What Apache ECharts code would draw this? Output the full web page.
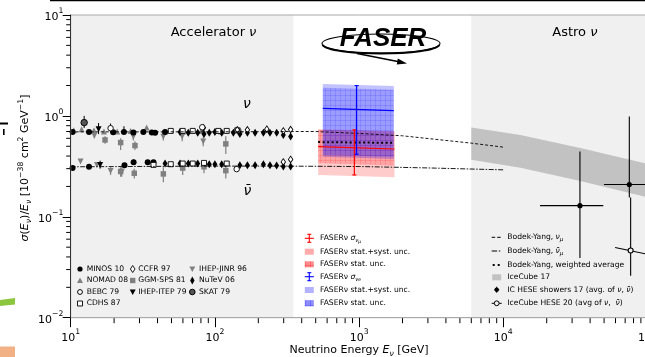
<!DOCTYPE html>
<html>
<head>
<meta charset="utf-8">
<script src="https://cdn.jsdelivr.net/npm/echarts@6.0.0/dist/echarts.min.js"></script>
<style>
html,body{margin:0;padding:0;background:#fff;}
#chart{width:645px;height:357px;}
</style>
</head>
<body>
<div id="chart"></div>
<script>
const FF = '"DejaVu Sans", sans-serif';

// ---------------- axes / ticks ----------------
const xMajorTicks = [10, 100, 1000, 10000, 100000];
const yMajorTicks = [0.01, 0.1, 1, 10];
const xMinorTicks = [20,30,40,50,60,70,80,90, 200,300,400,500,600,700,800,900,
                     2000,3000,4000,5000,6000,7000,8000,9000, 20000,30000,40000,50000,60000,70000,80000,90000];
const yMinorTicks = [0.02,0.03,0.04,0.05,0.06,0.07,0.08,0.09, 0.2,0.3,0.4,0.5,0.6,0.7,0.8,0.9, 2,3,4,5,6,7,8,9];

// ---------------- shaded regions (GeV) ----------------
const accelRegion = [10, 350];
const astroRegion = [6000, 100000];

// ---------------- accelerator data: [E, sigma/E, lo, hi] ----------------
const MINOS10 = [[10.3,0.694],[13.4,0.694],[19.7,0.690],[23.4,0.694,0.66,0.79],[27.2,0.685],[31.9,0.694],[36.5,0.684],[38.5,0.679],[45.1,0.694],
                 [10.3,0.304],[13.4,0.313],[23.6,0.325],[27.3,0.348,0.33,0.37],[34.2,0.348],[37.5,0.348]];
const NOMAD08 = [[10.5,0.72],[11.9,0.738],[14.5,0.72],[17,0.70],[21,0.70],[26,0.71],[33.6,0.766],[45,0.70],[60,0.70],[80,0.71],[110,0.70],[150,0.72],[229,0.738,0.70,0.78]];
const BEBC79 = [[18.9,0.755,0.69,0.84],[81.7,0.772],[141.6,0.297]];
const CDHS87 = [[49.4,0.71],[59.8,0.71],[70.2,0.71],[105.6,0.71],[120.8,0.71],[143,0.72],
                [37.5,0.327],[49.4,0.332],[59.8,0.337],[70.2,0.337],[84,0.342],[120.8,0.337]];
const CCFR97 = [[83.2,0.761],[143,0.727],[168,0.727],[229,0.738],[298,0.71],[335,0.732],[298,0.35],[335,0.37]];
const GGMSPS81 = [[17.3,0.578,0.53,0.63],[22.2,0.544,0.46,0.60],[27.9,0.508,0.46,0.56],[119,0.528,0.42,0.63],
                  [22.2,0.281,0.25,0.31],[27.6,0.27,0.24,0.30],[43.9,0.266,0.22,0.31],[59.8,0.304,0.26,0.35],[84,0.313,0.27,0.36],[119,0.287,0.24,0.34]];
const IHEPITEP79 = [[15.6,0.738,0.66,0.85],[16,0.327,0.30,0.36]];
const IHEPJINR96 = [[14.6,0.634,0.60,0.67],[27.2,0.62,0.57,0.67],[43.9,0.62,0.57,0.67],[59.3,0.624,0.56,0.70],[83,0.557,0.50,0.62],
                    [11.7,0.353],[15.2,0.327],[18.9,0.285,0.26,0.31],[22.6,0.279,0.25,0.31]];
const NuTeV06 = [[57.3,0.694],[65.4,0.679],[76,0.679],[84,0.663],[91.4,0.679],[100,0.694],[111.5,0.679],[134.3,0.679],[149,0.663],[168,0.679],[190,0.679],[217,0.679],[241,0.679],[268,0.679],[298,0.648],[335,0.624],
                 [45.1,0.337],[57.3,0.337],[65.4,0.337],[76,0.337],[91.4,0.332],[100,0.332],[111.5,0.332],[149,0.325],[168,0.325],[190,0.325],[217,0.332],[241,0.325],[268,0.322],[298,0.315],[335,0.315]];
const SKAT79 = [[12.4,0.858,0.76,1.0]];

// ---------------- Bodek-Yang predictions ----------------
const byNuE = [10, 30, 100, 300, 500, 1000, 2000, 6000, 10000];
const byNuV = [0.695, 0.695, 0.695, 0.70, 0.70, 0.67, 0.635, 0.537, 0.49];
const byNubarE = [10, 100, 300, 1000, 3000, 10000];
const byNubarV = [0.313, 0.318, 0.318, 0.315, 0.305, 0.292];
const byAvgE = [520, 1000, 1760];
const byAvgV = [0.55, 0.545, 0.54];

// ---------------- FASERnu results ----------------
const faserNumuRange = [520, 1760];
const faserNumuTotTop = [0.738, 0.71], faserNumuTotBot = [0.26, 0.247];
const faserNumuStatTop = [0.727, 0.70], faserNumuStatBot = [0.34, 0.323];
const faserNumuCentral = [0.497, 0.470];
const faserNumuPoint = [927, 0.484, 0.26, 0.727];
const faserNueRange = [560, 1740];
const faserNueTotTop = [2.075, 1.98], faserNueTotBot = [0.393, 0.375];
const faserNueStatTop = [1.9, 1.82], faserNueStatBot = [0.41, 0.393];
const faserNueCentral = [1.19, 1.13];
const faserNuePoint = [961, 1.16, 0.417, 1.996];

// ---------------- astrophysical ----------------
const ic17E = [6000, 13140, 34200, 96600, 150000];
const ic17Top = [0.766, 0.648, 0.482, 0.339, 0.29];
const ic17Bot = [0.367, 0.306, 0.227, 0.158, 0.13];
// [E, value, Elo, Ehi, lo, hi]
const icHese17 = [[34000, 0.129, 17970, 49370, 0.039, 0.443], [74800, 0.209, 49900, 200000, 0.155, 0.984]];
// [E, value, lo, hi]
const icHese20 = [[76400, 0.0464, 0.026, 0.155]];
const icHese20Slant = [[59600, 0.0497], [150000, 0.0377]];

// ======================================================================
function hatch(line, bg) {
  const c = document.createElement('canvas');
  c.width = 5; c.height = 5;
  const g = c.getContext('2d');
  g.fillStyle = bg; g.fillRect(0, 0, 5, 5);
  g.strokeStyle = line; g.lineWidth = 1;
  g.beginPath(); g.moveTo(0, 0.5); g.lineTo(5, 0.5); g.moveTo(0.5, 0); g.lineTo(0.5, 5); g.stroke();
  return { image: c, repeat: 'repeat' };
}
const redHatch = hatch('rgba(255,0,0,0.14)', 'rgba(255,0,0,0.2)');
const blueHatch = hatch('rgba(0,0,255,0.12)', 'rgba(0,0,255,0.2)');

function errSeries(items, color, width, z) {
  return {
    type: 'custom', silent: true, z: z, data: items,
    renderItem: (p, api) => {
      const a = api.coord([api.value(0), api.value(1)]);
      const b = api.coord([api.value(0), api.value(2)]);
      return { type: 'line', shape: { x1: a[0], y1: a[1], x2: b[0], y2: b[1] }, style: { stroke: color, lineWidth: width } };
    }
  };
}
function errFrom(arr) { return arr.filter(p => p.length > 2).map(p => [p[0], p[2], p[3]]); }

function scatter(arr, symbol, size, fill, border, rotate, z) {
  return {
    type: 'scatter', silent: true, z: z, data: arr.map(p => [p[0], p[1]]),
    symbol: symbol, symbolSize: size, symbolRotate: rotate || 0,
    itemStyle: { color: fill, borderColor: border || fill, borderWidth: border ? 0.9 : 0, opacity: 1 }
  };
}

function boxSeries(range, top, bot, fill, z) {
  return {
    type: 'custom', silent: true, z: z,
    data: [[range[0], top[0], range[1], top[1], bot[1], bot[0]]],
    renderItem: (p, api) => {
      const pts = [api.coord([api.value(0), api.value(1)]), api.coord([api.value(2), api.value(3)]),
                   api.coord([api.value(2), api.value(4)]), api.coord([api.value(0), api.value(5)])];
      return { type: 'polygon', shape: { points: pts }, style: { fill: fill } };
    }
  };
}

function lineSeries(E, V, color, width, type, z) {
  return {
    type: 'line', silent: true, z: z, symbol: 'none', smooth: false,
    data: E.map((e, i) => [e, V[i]]),
    lineStyle: { color: color, width: width, type: type, cap: 'butt' }
  };
}

function faserPoint(range, central, pt, color, z) {
  return {
    type: 'custom', silent: true, z: z,
    data: [[pt[0], pt[1], pt[2], pt[3], range[0], range[1], central[0], central[1]]],
    renderItem: (p, api) => {
      const e = api.value(0);
      const lo = api.coord([e, api.value(2)]), hi = api.coord([e, api.value(3)]);
      const cl = api.coord([api.value(4), api.value(6)]), cr = api.coord([api.value(5), api.value(7)]);
      const st = { stroke: color, lineWidth: 1.2 };
      return { type: 'group', children: [
        { type: 'line', shape: { x1: cl[0], y1: cl[1], x2: cr[0], y2: cr[1] }, style: st },
        { type: 'line', shape: { x1: lo[0], y1: lo[1], x2: hi[0], y2: hi[1] }, style: st },
        { type: 'line', shape: { x1: lo[0] - 2, y1: lo[1], x2: lo[0] + 2, y2: lo[1] }, style: st },
        { type: 'line', shape: { x1: hi[0] - 2, y1: hi[1], x2: hi[0] + 2, y2: hi[1] }, style: st }
      ]};
    }
  };
}

function expFmt(v) {
  const e = Math.round(Math.log10(v));
  return '{b|10}{s|' + (e < 0 ? '\u2212' + (-e) : String(e)) + '}';
}
const tickRich = {
  b: { fontSize: 11, lineHeight: 16, verticalAlign: 'bottom', fontFamily: FF, color: '#000' },
  s: { fontSize: 7.7, lineHeight: 9, verticalAlign: 'top', fontFamily: FF, color: '#000' }
};

const series = [];
// background regions
series.push({
  type: 'custom', silent: true, z: 1, data: [accelRegion, astroRegion],
  renderItem: (p, api) => {
    const a = api.coord([api.value(0), 10]), b = api.coord([api.value(1), 0.01]);
    return { type: 'rect', shape: { x: a[0], y: a[1], width: b[0] - a[0], height: b[1] - a[1] }, style: { fill: '#f0f0f0' } };
  }
});
// minor ticks
series.push({
  type: 'custom', silent: true, z: 12, data: xMinorTicks.map(v => [v, 0.01]),
  renderItem: (p, api) => {
    const a = api.coord([api.value(0), 0.01]);
    return { type: 'line', shape: { x1: a[0], y1: a[1], x2: a[0], y2: a[1] + 5.5 }, style: { stroke: '#000', lineWidth: 1 } };
  }
});
series.push({
  type: 'custom', silent: true, z: 12, data: yMinorTicks.map(v => [10, v]),
  renderItem: (p, api) => {
    const a = api.coord([10, api.value(1)]);
    return { type: 'line', shape: { x1: a[0] - 4.5, y1: a[1], x2: a[0], y2: a[1] }, style: { stroke: '#000', lineWidth: 1 } };
  }
});
// IceCube 17 band
series.push({
  type: 'custom', silent: true, z: 3, clip: true, data: [[ic17E[0], ic17Top[0]]],
  renderItem: (p, api) => {
    const pts = [];
    ic17E.forEach((e, i) => pts.push(api.coord([e, ic17Top[i]])));
    for (let i = ic17E.length - 1; i >= 0; i--) pts.push(api.coord([ic17E[i], ic17Bot[i]]));
    return { type: 'polygon', shape: { points: pts }, style: { fill: '#c2c2c2' } };
  }
});
// accelerator experiments: gray first, black on top
const GRAY = '#808080';
series.push(errSeries(errFrom(GGMSPS81).concat(errFrom(IHEPJINR96)).concat(errFrom(NOMAD08)), GRAY, 1.2, 4));
series.push(scatter(NOMAD08, 'triangle', 6, GRAY, null, 0, 5));
series.push(scatter(GGMSPS81, 'rect', 5.5, GRAY, null, 0, 5));
series.push(scatter(IHEPJINR96, 'triangle', 6, GRAY, null, 180, 5));
series.push(errSeries(errFrom(MINOS10).concat(errFrom(BEBC79)).concat(errFrom(IHEPITEP79)).concat(errFrom(SKAT79)), '#000', 1, 6));
series.push(scatter(MINOS10, 'circle', 6, '#000', null, 0, 7));
series.push(scatter(NuTeV06, 'diamond', [5, 8], '#000', null, 0, 7));
series.push(scatter(IHEPITEP79, 'triangle', 6, '#000', null, 180, 7));
series.push(scatter(CDHS87, 'rect', 5, '#fff', '#000', 0, 7));
series.push(scatter(CCFR97, 'diamond', [4.5, 6.5], '#fff', '#000', 0, 7));
series.push(scatter(BEBC79, 'circle', 5.5, '#fff', '#000', 0, 7));
series.push(scatter(SKAT79, 'circle', 6.5, '#555', '#000', 0, 7));
// FASER boxes
series.push(boxSeries(faserNumuRange, faserNumuTotTop, faserNumuTotBot, 'rgba(255,0,0,0.2)', 8));
series.push(boxSeries(faserNumuRange, faserNumuStatTop, faserNumuStatBot, redHatch, 8));
series.push(boxSeries(faserNueRange, faserNueTotTop, faserNueTotBot, 'rgba(0,0,255,0.24)', 8));
series.push(boxSeries(faserNueRange, faserNueStatTop, faserNueStatBot, blueHatch, 8));
// Bodek-Yang
series.push(lineSeries(byNuE, byNuV, '#000', 0.9, [3, 2], 9));
series.push(lineSeries(byNubarE, byNubarV, '#000', 0.9, [5, 1.5, 1.5, 1.5], 9));
series.push(lineSeries(byAvgE, byAvgV, '#000', 2, [2, 2.5], 9));
// FASER points
series.push(faserPoint(faserNumuRange, faserNumuCentral, faserNumuPoint, '#ff0000', 10));
series.push(faserPoint(faserNueRange, faserNueCentral, faserNuePoint, '#0000ff', 10));
// IceCube points
series.push({
  type: 'custom', silent: true, z: 10, data: icHese17,
  renderItem: (p, api) => {
    const e = api.value(0), v = api.value(1);
    const c = api.coord([e, v]);
    const l = api.coord([api.value(2), v]), r = api.coord([api.value(3), v]);
    const b = api.coord([e, api.value(4)]), t = api.coord([e, api.value(5)]);
    const st = { stroke: '#000', lineWidth: 1.1 };
    return { type: 'group', children: [
      { type: 'line', shape: { x1: l[0], y1: l[1], x2: r[0], y2: r[1] }, style: st },
      { type: 'line', shape: { x1: b[0], y1: b[1], x2: t[0], y2: t[1] }, style: st },
      { type: 'circle', shape: { cx: c[0], cy: c[1], r: 2.6 }, style: { fill: '#000' } }
    ]};
  }
});
series.push(lineSeries(icHese20Slant.map(p => p[0]), icHese20Slant.map(p => p[1]), '#000', 1.1, 'solid', 10));
series.push({
  type: 'custom', silent: true, z: 11, data: icHese20,
  renderItem: (p, api) => {
    const e = api.value(0);
    const c = api.coord([e, api.value(1)]);
    const b = api.coord([e, api.value(2)]), t = api.coord([e, api.value(3)]);
    return { type: 'group', children: [
      { type: 'line', shape: { x1: b[0], y1: b[1], x2: t[0], y2: t[1] }, style: { stroke: '#000', lineWidth: 1.1 } },
      { type: 'circle', shape: { cx: c[0], cy: c[1], r: 2.5 }, style: { fill: '#f0f0f0', stroke: '#000', lineWidth: 1.1 } }
    ]};
  }
});

// ---------------- graphic: labels, legends, logo ----------------
const LR = {
  n: { fontSize: 7.6, lineHeight: 11, verticalAlign: 'middle', fontFamily: FF, fill: '#000' },
  i: { fontSize: 7.6, lineHeight: 11, verticalAlign: 'middle', fontFamily: FF, fontStyle: 'italic', fill: '#000' },
  sub: { fontSize: 5.6, lineHeight: 6, verticalAlign: 'bottom', fontFamily: FF, fontStyle: 'italic', fill: '#000' },
  ss: { fontSize: 4.6, lineHeight: 3, verticalAlign: 'bottom', fontFamily: FF, fontStyle: 'italic', fill: '#000' }
};
function T(x, y, text) {
  return { type: 'text', x: x, y: y, silent: true, style: { text: text, rich: LR, fontFamily: FF, fontSize: 7.6, fill: '#000', align: 'left', verticalAlign: 'middle' } };
}
const G = [];
const K = '#000';
// experiment legend
const c1 = 80, c2 = 132.7, c3 = 192.3, r1 = 269, r2 = 280.5, r3 = 292, r4 = 303.5;
G.push({ type: 'circle', shape: { cx: c1, cy: r1, r: 2.6 }, style: { fill: K } });
G.push(T(86.7, r1, '{n|MINOS 10}'));
G.push({ type: 'polygon', shape: { points: [[c2, r1 - 3.5], [c2 + 2.3, r1], [c2, r1 + 3.5], [c2 - 2.3, r1]] }, style: { fill: '#fff', stroke: K, lineWidth: 0.9 } });
G.push(T(138.3, r1, '{n|CCFR 97}'));
G.push({ type: 'polygon', shape: { points: [[c3 - 3, r1 - 2.5], [c3 + 3, r1 - 2.5], [c3, r1 + 3]] }, style: { fill: GRAY } });
G.push(T(199, r1, '{n|IHEP-JINR 96}'));
G.push({ type: 'polygon', shape: { points: [[c1 - 3, r2 + 2.5], [c1 + 3, r2 + 2.5], [c1, r2 - 3]] }, style: { fill: GRAY } });
G.push(T(86.7, r2, '{n|NOMAD 08}'));
G.push({ type: 'rect', shape: { x: c2 - 2.7, y: r2 - 2.7, width: 5.4, height: 5.4 }, style: { fill: GRAY } });
G.push(T(138.3, r2, '{n|GGM-SPS 81}'));
G.push({ type: 'polygon', shape: { points: [[c3, r2 - 4], [c3 + 2.2, r2], [c3, r2 + 4], [c3 - 2.2, r2]] }, style: { fill: K } });
G.push(T(199, r2, '{n|NuTeV 06}'));
G.push({ type: 'circle', shape: { cx: c1, cy: r3, r: 2.4 }, style: { fill: '#fff', stroke: K, lineWidth: 1 } });
G.push(T(86.7, r3, '{n|BEBC 79}'));
G.push({ type: 'polygon', shape: { points: [[c2 - 3, r3 - 2.5], [c2 + 3, r3 - 2.5], [c2, r3 + 3]] }, style: { fill: K } });
G.push(T(138.3, r3, '{n|IHEP-ITEP 79}'));
G.push({ type: 'circle', shape: { cx: c3, cy: r3, r: 2.8 }, style: { fill: '#555', stroke: K, lineWidth: 1 } });
G.push(T(199, r3, '{n|SKAT 79}'));
G.push({ type: 'rect', shape: { x: c1 - 2.5, y: r4 - 2.5, width: 5, height: 5 }, style: { fill: '#fff', stroke: K, lineWidth: 0.9 } });
G.push(T(86.7, r4, '{n|CDHS 87}'));

// FASER legend
const fx = 309.3, ftx = 320, fr = [238.3, 251.7, 264.3, 276.7, 290, 303.3];
function errIcon(y, color) {
  const st = { stroke: color, lineWidth: 1.1 };
  return [
    { type: 'line', shape: { x1: fx - 4.5, y1: y, x2: fx + 4.5, y2: y }, style: st },
    { type: 'line', shape: { x1: fx, y1: y - 4, x2: fx, y2: y + 4 }, style: st },
    { type: 'line', shape: { x1: fx - 2, y1: y - 4, x2: fx + 2, y2: y - 4 }, style: st },
    { type: 'line', shape: { x1: fx - 2, y1: y + 4, x2: fx + 2, y2: y + 4 }, style: st }
  ];
}
errIcon(fr[0], '#ff0000').forEach(e => G.push(e));
G.push(T(ftx, fr[0], '{n|FASERν }{i|σ}{sub|ν}{ss|μ}'));
G.push({ type: 'rect', shape: { x: fx - 4.5, y: fr[1] - 3, width: 9, height: 6 }, style: { fill: 'rgba(255,0,0,0.33)' } });
G.push(T(ftx, fr[1], '{n|FASERν stat.+syst. unc.}'));
G.push({ type: 'rect', shape: { x: fx - 4.5, y: fr[2] - 3, width: 9, height: 6 }, style: { fill: hatch('rgba(255,0,0,0.25)', 'rgba(255,0,0,0.45)') } });
G.push(T(ftx, fr[2], '{n|FASERν stat. unc.}'));
errIcon(fr[3], '#0000ff').forEach(e => G.push(e));
G.push(T(ftx, fr[3], '{n|FASERν }{i|σ}{sub|ν}{ss|e}'));
G.push({ type: 'rect', shape: { x: fx - 4.5, y: fr[4] - 3, width: 9, height: 6 }, style: { fill: 'rgba(0,0,255,0.3)' } });
G.push(T(ftx, fr[4], '{n|FASERν stat.+syst. unc.}'));
G.push({ type: 'rect', shape: { x: fx - 4.5, y: fr[5] - 3, width: 9, height: 6 }, style: { fill: hatch('rgba(0,0,255,0.2)', 'rgba(0,0,255,0.45)') } });
G.push(T(ftx, fr[5], '{n|FASERν stat. unc.}'));

// theory / astro legend
const ax = 496.7, atx = 507.3, ar = [237.3, 251, 265, 277.3, 289.7, 303.3];
G.push({ type: 'line', shape: { x1: ax - 5, y1: ar[0], x2: ax - 1.5, y2: ar[0] }, style: { stroke: K, lineWidth: 1 } });
G.push({ type: 'line', shape: { x1: ax + 0.5, y1: ar[0], x2: ax + 4, y2: ar[0] }, style: { stroke: K, lineWidth: 1 } });
G.push(T(atx, ar[0], '{n|Bodek-Yang, }{i|ν}{sub|μ}'));
G.push({ type: 'line', shape: { x1: ax - 5, y1: ar[1], x2: ax + 0.5, y2: ar[1] }, style: { stroke: K, lineWidth: 1 } });
G.push({ type: 'line', shape: { x1: ax + 2.2, y1: ar[1], x2: ax + 3.6, y2: ar[1] }, style: { stroke: K, lineWidth: 1 } });
G.push(T(atx, ar[1], '{n|Bodek-Yang, }{i|ν̄}{sub|μ}'));
G.push({ type: 'rect', shape: { x: ax - 4, y: ar[2] - 1, width: 2, height: 2 }, style: { fill: K } });
G.push({ type: 'rect', shape: { x: ax + 1, y: ar[2] - 1, width: 2, height: 2 }, style: { fill: K } });
G.push(T(atx, ar[2], '{n|Bodek-Yang, weighted average}'));
G.push({ type: 'rect', shape: { x: ax - 4.5, y: ar[3] - 3, width: 9, height: 6 }, style: { fill: '#c2c2c2' } });
G.push(T(atx, ar[3], '{n|IceCube 17}'));
G.push({ type: 'line', shape: { x1: ax - 2.5, y1: ar[4], x2: ax + 2.5, y2: ar[4] }, style: { stroke: K, lineWidth: 1 } });
G.push({ type: 'line', shape: { x1: ax, y1: ar[4] - 3, x2: ax, y2: ar[4] + 3 }, style: { stroke: K, lineWidth: 1 } });
G.push({ type: 'circle', shape: { cx: ax, cy: ar[4], r: 2.2 }, style: { fill: K } });
G.push(T(atx, ar[4], '{n|IC HESE showers 17 (avg. of }{i|ν}{n|, }{i|ν̄}{n|)}'));
G.push({ type: 'line', shape: { x1: ax - 5, y1: ar[5], x2: ax + 5, y2: ar[5] }, style: { stroke: K, lineWidth: 1 } });
G.push({ type: 'circle', shape: { cx: ax, cy: ar[5], r: 2.4 }, style: { fill: '#f0f0f0', stroke: K, lineWidth: 1 } });
G.push(T(atx, ar[5], '{n|IceCube HESE 20 (avg of }{i|ν}{n|,  }{i|ν̄}{n|)}'));

// region titles and nu / nubar labels
const TR = {
  n: { fontSize: 13, fontFamily: FF, fill: '#000' },
  i: { fontSize: 13, fontFamily: FF, fontStyle: 'italic', fill: '#000' }
};
G.push({ type: 'text', x: 170.7, y: 32.5, silent: true, style: { text: '{n|Accelerator }{i|ν}', rich: TR, align: 'left', verticalAlign: 'middle' } });
G.push({ type: 'text', x: 552.3, y: 32.5, silent: true, style: { text: '{n|Astro }{i|ν}', rich: TR, align: 'left', verticalAlign: 'middle' } });
G.push({ type: 'text', x: 247, y: 104, silent: true, style: { text: 'ν', fontSize: 14, fontStyle: 'italic', fontFamily: FF, fill: '#000', align: 'center', verticalAlign: 'middle' } });
G.push({ type: 'text', x: 247.5, y: 191, silent: true, style: { text: 'ν̄', fontSize: 14, fontStyle: 'italic', fontFamily: FF, fill: '#000', align: 'center', verticalAlign: 'middle' } });

// axis titles
const AR = {
  n: { fontSize: 11, lineHeight: 16, verticalAlign: 'middle', fontFamily: FF, fill: '#000' },
  i: { fontSize: 11, lineHeight: 16, verticalAlign: 'middle', fontFamily: FF, fontStyle: 'italic', fill: '#000' },
  sub: { fontSize: 7.7, lineHeight: 9, verticalAlign: 'bottom', fontFamily: FF, fontStyle: 'italic', fill: '#000' },
  sup: { fontSize: 7.7, lineHeight: 9, verticalAlign: 'top', fontFamily: FF, fill: '#000' }
};
G.push({ type: 'text', x: 359, y: 350.5, silent: true, style: { text: '{n|Neutrino Energy }{i|E}{sub|ν}{n| [GeV]}', rich: AR, align: 'center', verticalAlign: 'middle' } });
G.push({ type: 'text', x: 25, y: 168, rotation: Math.PI / 2, silent: true,
  style: { text: '{i|σ}{n|(}{i|E}{sub|ν}{n|)/}{i|E}{sub|ν}{n| [10}{sup|−38}{n| cm}{sup|2}{n| GeV}{sup|−1}{n|]}', rich: AR, align: 'center', verticalAlign: 'middle' } });

// FASER logo
G.push({ type: 'ellipse', silent: true, shape: { cx: 381, cy: 43.5, rx: 59, ry: 9.5 }, style: { fill: 'none', stroke: K, lineWidth: 1.1 } });
G.push({ type: 'bezierCurve', silent: true, shape: { x1: 322.5, y1: 45, cpx1: 326, cpy1: 50.5, cpx2: 352, cpy2: 53.5, x2: 381, y2: 53.5 }, style: { fill: 'none', stroke: K, lineWidth: 1.8 } });
G.push({ type: 'bezierCurve', silent: true, shape: { x1: 381, y1: 53.5, cpx1: 410, cpy1: 53.5, cpx2: 436, cpy2: 50.5, x2: 439.5, y2: 45 }, style: { fill: 'none', stroke: K, lineWidth: 1.8 } });
G.push({ type: 'line', silent: true, shape: { x1: 357, y1: 53.5, x2: 399, y2: 61.8 }, style: { stroke: K, lineWidth: 1.6 } });
G.push({ type: 'polygon', silent: true, shape: { points: [[407, 63.6], [397.8, 58.6], [396.8, 64.4]] }, style: { fill: K } });
G.push({ type: 'text', x: 383, y: 38.5, silent: true, style: { text: 'FASER', fontSize: 26, fontWeight: 'bold', fontStyle: 'italic', fontFamily: '"Liberation Sans", sans-serif', fill: K, align: 'center', verticalAlign: 'middle' } });

// stray fragments from the neighbouring figure at the edges
G.push({ type: 'line', silent: true, shape: { x1: 50, y1: 0.5, x2: 645, y2: 0.5 }, style: { stroke: '#000', lineWidth: 1.5 } });
G.push({ type: 'rect', silent: true, shape: { x: 0, y: 122.5, width: 8, height: 2 }, style: { fill: '#000' } });
G.push({ type: 'rect', silent: true, shape: { x: 3, y: 129, width: 1.6, height: 6 }, style: { fill: '#000' } });
G.push({ type: 'polygon', silent: true, shape: { points: [[0, 300], [15, 298], [15, 304.5], [0, 306]] }, style: { fill: '#8cc63e' } });
G.push({ type: 'rect', silent: true, shape: { x: 0, y: 346.5, width: 15, height: 11 }, style: { fill: '#f2b185' } });

// draw all overlay graphics above the series
G.forEach(e => { e.z = 100; e.silent = true; });

const option = {
  animation: false,
  textStyle: { fontFamily: FF },
  grid: { left: 70.7, top: 15, width: 576.8, height: 302.7, show: true, borderColor: '#a8a8a8', borderWidth: 1,
          backgroundColor: 'transparent', containLabel: false, outerBoundsMode: 'none', z: 20 },
  xAxis: {
    type: 'log', logBase: 10, min: xMajorTicks[0], max: xMajorTicks[xMajorTicks.length - 1], z: 20,
    axisLine: { show: true, onZero: false, lineStyle: { color: '#a8a8a8', width: 1 } },
    axisTick: { show: true, length: 9.5, lineStyle: { color: '#000', width: 1 } },
    minorTick: { show: false }, splitLine: { show: false },
    axisLabel: { formatter: expFmt, rich: tickRich, margin: 10, showMaxLabel: true, showMinLabel: true }
  },
  yAxis: {
    type: 'log', logBase: 10, min: yMajorTicks[0], max: yMajorTicks[yMajorTicks.length - 1], z: 20,
    axisLine: { show: true, onZero: false, lineStyle: { color: '#333', width: 1 } },
    axisTick: { show: true, length: 8, lineStyle: { color: '#000', width: 1 } },
    minorTick: { show: false }, splitLine: { show: false },
    axisLabel: { formatter: expFmt, rich: tickRich, margin: 7.4, showMaxLabel: true, showMinLabel: true }
  },
  series: series,
  graphic: { elements: G }
};

const chart = echarts.init(document.getElementById('chart'), null, { renderer: 'canvas' });
chart.setOption(option);
</script>
</body>
</html>
